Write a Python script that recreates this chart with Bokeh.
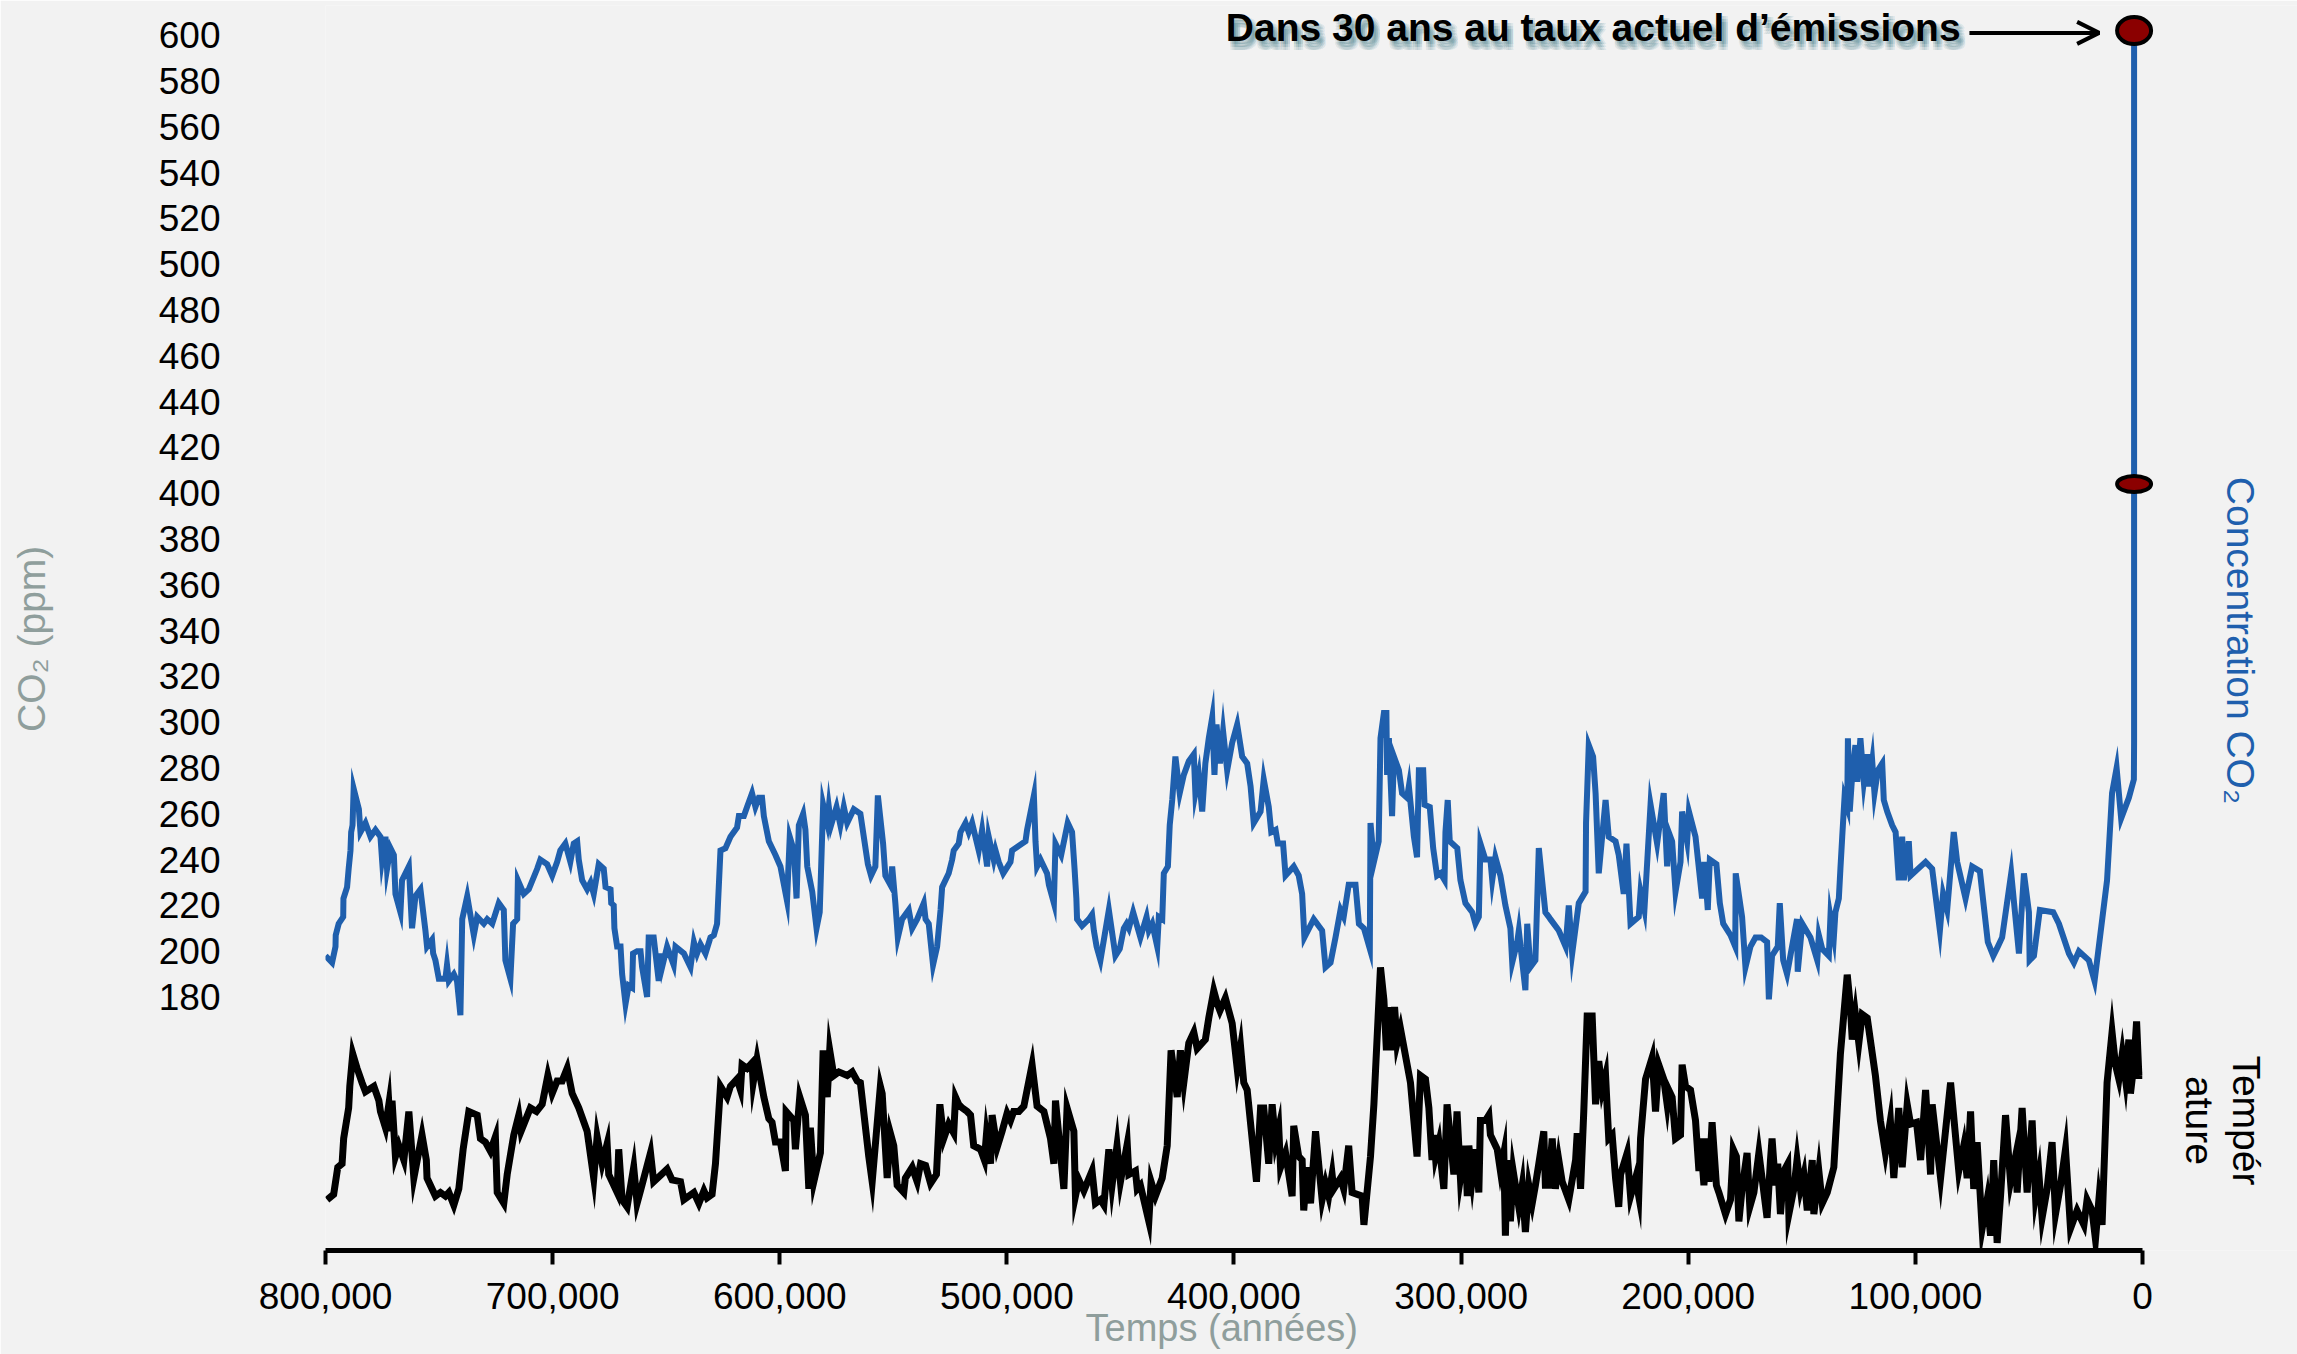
from math import pi

from bokeh.plotting import figure
from bokeh.models import (Range1d, FixedTicker, NumeralTickFormatter, Label,
                          Arrow, OpenHead)
from bokeh.embed import file_html
from bokeh.resources import INLINE

# --- Ice-core CO2 record (years before present, ppm) ---
co2_years = [
    800000, 797100, 795600, 795500, 794200, 792200, 792100, 790500, 789800, 789000,
    788700, 788100, 787600, 785300, 784600, 782400, 780200, 778000, 775800, 775100,
    773600, 772900, 771400, 769900, 769200, 767000, 766300, 763300, 761900, 760400,
    758200, 756000, 755300, 753100, 752600, 751600, 750100, 747200, 746500, 745700,
    743500, 742100, 740600, 739800, 737600, 734700, 733200, 730300, 728800, 726600,
    723700, 721500, 720800, 718600, 717400, 715600, 715300, 712700, 710500, 706800,
    705400, 702400, 700200, 698000, 696600, 694400, 692200, 690700, 689200, 688500,
    687000, 684800, 683300, 681900, 679700, 677500, 676700, 674500, 674200, 673100,
    672800, 671600, 670100, 669400, 667900, 666500, 665000, 664600, 662800, 661300,
    660600, 658400, 657700, 655500, 653300, 652500, 651800, 649600, 646700, 645900,
    642200, 639300, 637800, 636400, 634900, 632700, 630500, 629000, 627600, 626100,
    623900, 621700, 618800, 618000, 615800, 614400, 612200, 610700, 609200, 607800,
    607000, 604800, 601900,
    599700, 596800, 595600, 593800, 592600, 591600, 589700, 588700, 587900, 585700,
    583800, 582400, 580900, 579100, 578400, 577400, 575000, 573300, 571800, 570300,
    567400, 564500, 563000, 561200, 559800, 557900, 556800, 554500, 553500, 551300,
    550500, 549100, 548000, 546100, 543200, 541700, 539500, 536600, 535800, 534400,
    532500, 530700, 529200, 528500, 525600, 524100, 523400, 521200, 520400, 518200,
    516800, 515300, 512400, 510900, 508700, 508000, 505800, 505000, 503600, 501600,
    498400, 497700, 494700, 491800, 491100, 488100, 487400, 486700, 485200, 482300,
    481500, 479300, 478600, 476100, 473200, 471300, 470200, 469400, 469100, 466900,
    463900, 462500, 461700, 460500, 458800, 455100, 452200, 450300, 448500, 447300,
    446300, 444400, 441200, 438500, 437500, 436000, 433800, 433100, 431600, 430900,
    429100, 428300, 427200, 425800, 423900, 422100, 419900, 417700, 417000, 415500,
    414000, 412600, 411100, 409600, 408600, 407700, 406200, 404800, 403000, 400800,
    398600,
    396400, 394200, 392700, 391300, 388300, 386900, 384700, 383600, 381700, 380700,
    378400, 377300, 373700, 371500, 370000, 369000, 364900, 361200, 359700, 357500,
    355300, 353100, 351700, 349500, 346500, 345000, 342800, 340200, 339900, 338400,
    336300, 335500, 334000, 332900, 332600, 331800, 330400, 329600, 327400, 326000,
    323800, 323000, 320800, 319400, 318600, 316700, 316100, 313800, 312300, 310600,
    309100, 307300, 306900, 305900, 305000, 301700, 300300, 298100, 295100, 293700,
    292200, 291500, 289300, 287100, 286300, 284900, 282700, 280500, 278300, 277500,
    275300, 274600, 271700, 270900, 269500, 267300, 265800, 262900, 261400, 260700,
    257000, 254000, 252600, 251100, 248200, 245200, 245000, 243800, 241900, 240800,
    239400, 236400, 235000, 232000, 230600, 228400, 227200, 225400, 221800, 221000,
    219300, 216600, 213700, 210800, 209300, 208600, 207100, 205600, 203400, 202700,
    200500, 199700, 196800,
    193900, 192900, 191400, 190500, 187600, 186100, 184600, 181400, 179300, 179100,
    176300, 174800, 172600, 170400, 167900, 165300, 164500, 163100, 160600, 159700,
    158200, 156500, 152100, 151800, 149800, 146200, 143200, 142500, 141000, 138100,
    137400, 135900, 135200, 133700, 133000, 132200, 131200, 130000, 129700, 128900,
    127800, 126400, 125600, 124200, 122700, 121200, 120500, 119000, 118000, 116500,
    114600, 113900, 112400, 110200, 108700, 107300, 105800, 105100, 102900, 102100,
    95500, 92600, 89200, 87800, 86000, 83100, 81600, 77900, 75000, 71600,
    68100, 65700, 63700, 61800, 57800, 54400, 52200, 50000, 49700, 47800,
    45200, 39300, 36800, 32400, 30200, 28000, 23600, 21100, 15600, 13400,
    11400, 9400, 6000, 3800, 3700,
]
co2_ppm = [
    198, 195, 202, 207, 212, 215, 223, 228, 236, 244,
    252, 255, 271, 262, 252, 256, 250, 253, 250, 240,
    250, 236, 245, 242, 225, 217, 231, 237, 210, 224,
    227, 209, 202, 205, 199, 196, 188, 188, 194, 187,
    190, 187, 172, 214, 224, 207, 215, 212, 214, 212,
    221, 218, 196, 188, 212, 214, 231, 225, 227, 236,
    240, 238, 233, 239, 244, 247, 239, 247, 248, 240,
    231, 227, 230, 225, 238, 236, 228, 227, 221, 220,
    210, 202, 202, 190, 177, 185, 184, 199, 200, 200,
    193, 180, 206, 206, 187, 199, 193, 202, 194, 202,
    199, 193, 204, 199, 203, 199, 206, 207, 212, 244,
    245, 250, 254, 259, 259, 263, 269, 263, 267, 267,
    259, 248, 242,
    237, 222, 250, 244, 223, 255, 260, 253, 237, 226,
    210, 217, 264, 256, 263, 255, 263, 255, 263, 256,
    262, 260, 250, 238, 233, 237, 268, 247, 233, 229,
    237, 221, 206, 214, 218, 210, 214, 221, 214, 212,
    194, 202, 218, 228, 234, 240, 244, 247, 252, 256,
    252, 256, 244, 253, 237, 250, 240, 244, 239, 234,
    239, 244, 246, 248, 253, 268, 248, 237, 240, 234,
    229, 221, 247, 242, 256, 252, 236, 223, 214, 211,
    214, 216, 209, 202, 196, 218, 198, 201, 210, 212,
    210, 217, 206, 215, 209, 212, 202, 215, 214, 234,
    237, 255, 266, 285, 269, 277, 283, 286, 269, 277,
    261, 282, 293, 302, 277, 299, 282, 296, 279, 291,
    299,
    285, 282, 272, 256, 261, 275, 263, 252, 253, 247,
    247, 233, 237, 233, 225, 206, 214, 209, 193, 195,
    206, 218, 215, 229, 229, 212, 210, 201, 256, 239,
    248, 293, 304, 304, 277, 293, 259, 285, 279, 269,
    267, 272, 250, 241, 279, 279, 264, 263, 245, 233,
    234, 231, 252, 266, 248, 245, 231, 221, 217, 212,
    215, 247, 240, 240, 231, 241, 233, 220, 210, 195,
    204, 209, 183, 212, 193, 196, 245, 217, 215, 214,
    209, 202, 220, 199, 221, 226, 256, 290, 285, 269,
    234, 266, 250, 248, 242, 225, 247, 212, 215, 226,
    218, 264, 247, 269, 237, 252, 248, 226, 239, 261,
    248, 261, 250,
    223, 239, 218, 240, 238, 221, 212, 207, 202, 234,
    215, 193, 202, 206, 206, 204, 179, 198, 202, 221,
    196, 190, 214, 191, 212, 206, 196, 207, 201, 198,
    215, 206, 217, 223, 236, 250, 267, 263, 293, 261,
    277, 290, 274, 293, 274, 286, 272, 283, 269, 279,
    282, 266, 261, 255, 252, 231, 250, 231, 248, 233,
    239, 236, 209, 225, 218, 252, 239, 223, 237, 235,
    204, 198, 202, 206, 234, 199, 234, 217, 196, 198,
    218, 217, 212, 199, 195, 200, 196, 187, 231, 269,
    280, 258, 267, 275, 291,
]

# --- Present-day level and the level projected thirty years ahead ---
modern_years = [3700, 3700]
modern_ppm = [404, 602]

# --- Temperature anomaly from the same core (deg C) ---
temp_years = [
    799300, 796400, 794600, 792700, 792000, 789800, 789300, 788000, 786100, 783900,
    782400, 778700, 776500, 775800, 773600, 772100, 771400, 770700, 769200, 767700,
    765500, 763300, 761100, 757500, 755600, 755300, 751600, 749400, 747200, 745700,
    743500, 741300, 739400, 736900, 733200, 731800, 729600, 727400, 725200, 724400,
    721500, 720000, 717100, 714900, 713900, 709800, 707100, 704600, 702100, 700200,
    698000, 695800, 693600, 691400, 688500, 684800, 681900, 680400, 678200, 676000,
    675300, 671600, 670900, 669400, 667200, 664300, 662800, 661300, 656900, 655500,
    649600, 647400, 643700, 642200, 637800, 635600, 633400, 632000, 629800, 628300,
    626100, 623200, 621700, 618800, 617300, 616600, 614400, 612200, 611700, 610000,
    607000, 604800, 603400, 601900,
    599700, 597500, 597200, 593800, 593100, 591200, 588700, 587200, 586500, 585000,
    582100, 580900, 579100, 578000, 576200, 574000, 570300, 568100, 565900, 564500,
    560800, 559300, 555700, 554900, 552700, 551300, 549800, 548300, 545400, 544700,
    541700, 539500, 538000, 535800, 533600, 531000, 529500, 527800, 525600, 523400,
    522600, 521200, 519700, 517500, 516000, 514600, 511600, 509900, 509000, 507200,
    506500, 504300, 502100, 499900, 498400, 497000, 494700, 492500, 488900, 486700,
    483700, 480800, 479300, 478600, 474900, 473500, 470500, 469800, 468300, 466100,
    462500, 461000, 458800, 457300, 455100, 453700, 451500, 450000, 447000, 446300,
    443400, 442600, 441200, 437500, 436500, 434600, 431600, 429400, 427700, 425000,
    423600, 422100, 419900, 417700, 416200, 412600, 411100, 408900, 407400, 406200,
    403800, 400800, 398600, 397100,
    395700, 394200, 390100, 388300, 386900, 384700, 383200, 381700, 380300, 379500,
    377300, 374400, 373700, 371500, 370000, 369300, 367800, 366300, 364100, 361200,
    359700, 358300, 356800, 356100, 353100, 351700, 349500, 348000, 343600, 342800,
    339900, 338400, 335500, 334000, 332900, 331800, 331100, 329300, 328200, 326700,
    322300, 319400, 317900, 315700, 314200, 312800, 312000, 311300, 309800, 307600,
    306200, 303200, 301800, 300300, 298100, 297300, 296600, 295100, 293700, 292200,
    291500, 289300, 287800, 287100, 284100, 282700, 281200, 280500, 279700, 278300,
    277100, 274600, 273100, 271700, 270200, 268700, 267300, 265800, 263600, 262900,
    261400, 259900, 258500, 257000, 255500, 252600, 249600, 248900, 247400, 246000,
    244500, 242300, 240800, 239400, 237900, 236400, 235700, 235000, 233500, 232000,
    230600, 229800, 226900, 225400, 223200, 221800, 221000, 218800, 215900, 214400,
    213000, 210800, 209300, 208600, 207100, 205600, 203400, 202700, 201200, 199000,
    196800, 195300,
    194600, 193100, 191700, 190900, 189500, 187600, 186500, 183600, 181400, 180200,
    178800, 177700, 176300, 174100, 172900, 171100, 168900, 167500, 165300, 163800,
    163100, 161600, 160600, 159400, 157900, 156200, 155700, 153500, 152100, 150600,
    149100, 147600, 145400, 144700, 142500, 141000, 138800, 135900, 133000, 130000,
    128600, 127800, 126400, 124900, 123400, 121200, 117600, 115400, 113200, 111000,
    109500, 107300, 105800, 103600, 102100, 99500, 97700, 95500, 93300, 92600,
    88900, 84500, 80900, 78700, 77200, 75700, 74300, 72800, 70600, 68400,
    66900, 65500, 64000, 62500, 60300, 58100, 55900, 55200, 53000, 50800,
    48600, 47100, 45600, 44200, 42000, 39800, 38300, 36100, 33900, 31700,
    28800, 25800, 24400, 22200, 20700, 19200, 17800, 15600, 13400, 11900,
    10400, 8900, 7500, 6000, 5300, 3800, 2600, 1600, 100,
]
temp_anom = [
    -6.9, -6.6, -5.1, -4.9, -3.5, -1.8, -0.6, 1.2, 0.4, -0.4,
    -0.9, -0.6, -1.4, -2.0, -2.9, -1.6, -3.1, -1.4, -4.5, -3.9,
    -4.7, -2.0, -5.7, -3.3, -4.7, -5.7, -6.7, -6.5, -6.7, -6.5,
    -7.2, -6.3, -4.1, -2.0, -2.2, -3.5, -3.7, -4.2, -3.4, -6.5,
    -7.1, -5.5, -3.3, -2.2, -3.1, -1.8, -2.0, -1.6, 0.0, -1.0,
    -0.3, -0.3, 0.4, -1.0, -1.8, -3.1, -5.7, -3.4, -4.9, -3.8,
    -5.5, -6.5, -4.1, -6.9, -7.3, -5.1, -7.1, -6.4, -4.3, -5.9,
    -5.2, -5.8, -5.9, -6.9, -6.5, -7.1, -6.4, -6.8, -6.6, -4.9,
    -0.6, -1.2, -0.6, -0.2, -0.8, 0.6, 0.4, 0.7, -0.4, 0.9,
    -1.2, -2.4, -2.6, -3.7,
    -3.7, -5.3, -2.0, -2.5, -4.1, -1.2, -2.2, -6.3, -2.9, -5.9,
    -4.3, 1.4, -1.2, 1.4, 0.0, 0.2, 0.0, 0.2, -0.3, -0.4,
    -4.5, -5.9, -0.6, -1.0, -5.7, -3.2, -3.9, -6.1, -6.5, -5.7,
    -5.1, -5.9, -4.9, -5.0, -6.0, -5.5, -1.6, -3.5, -2.7, -3.2,
    -1.2, -1.6, -1.8, -2.0, -2.2, -3.9, -4.1, -4.7, -3.3, -4.9,
    -2.2, -4.0, -3.1, -2.1, -2.5, -2.0, -2.0, -1.7, 0.6, -1.7,
    -2.0, -3.5, -4.9, -1.4, -6.3, -1.8, -3.1, -6.7, -5.8, -6.4,
    -5.3, -7.1, -6.9, -7.2, -4.1, -6.1, -3.9, -5.9, -3.8, -5.5,
    -5.3, -6.3, -6.1, -8.1, -5.9, -6.7, -5.7, -3.9, 1.4, -1.2,
    1.4, -0.4, 1.8, 2.4, 1.5, 2.0, 3.2, 4.7, 4.0, 3.6,
    4.3, 2.9, 0.4, 1.6,
    -0.4, -0.8, -5.9, -1.8, -1.8, -4.9, -1.6, -3.7, -2.9, -5.1,
    -4.3, -6.7, -2.8, -4.5, -4.7, -7.5, -5.1, -7.1, -3.1, -6.9,
    -6.0, -6.7, -5.5, -6.3, -5.7, -6.3, -3.9, -6.5, -6.7, -8.3,
    -4.5, -1.6, 6.0, 4.2, 1.4, 3.8, 1.4, 3.8, 1.8, 2.6,
    -0.4, -4.5, 0.0, -0.2, -1.8, -4.7, -3.3, -4.5, -3.7, -6.3,
    -1.6, -5.5, -2.0, -5.7, -3.9, -6.7, -3.9, -5.7, -4.1, -6.5,
    -2.5, -2.5, -2.2, -3.3, -4.1, -5.3, -4.3, -8.9, -4.7, -8.1,
    -5.3, -7.3, -6.1, -8.7, -6.1, -7.1, -6.1, -4.9, -3.1, -6.1,
    -6.1, -3.5, -6.3, -4.7, -5.9, -6.9, -4.7, -3.2, -6.3, -2.0,
    3.3, 3.3, -1.6, 0.8, -0.8, 0.0, -1.8, -3.5, -3.3, -5.7,
    -7.3, -5.5, -4.3, -6.7, -5.7, -6.7, -3.5, -0.2, 1.0, -2.0,
    0.6, -0.2, -1.6, -0.8, -1.2, -3.5, -3.3, 0.6, -0.6, -0.8,
    -2.5, -5.3,
    -3.5, -6.1, -3.5, -5.9, -2.6, -6.1, -6.5, -7.7, -6.9, -4.1,
    -4.5, -8.1, -6.3, -4.3, -7.3, -6.5, -4.3, -5.7, -7.9, -4.7,
    -3.5, -6.1, -4.9, -7.7, -5.3, -4.9, -7.7, -6.3, -4.7, -6.3,
    -5.5, -7.5, -4.7, -7.7, -5.3, -7.1, -6.5, -5.1, 1.2, 5.6,
    3.8, 2.0, 3.4, 1.8, 3.4, 3.2, 0.0, -2.5, -4.3, -2.5,
    -5.7, -1.8, -5.1, -1.6, -2.7, -2.6, -4.7, -0.8, -5.5, -1.6,
    -5.7, -0.4, -5.3, -3.9, -5.7, -2.0, -6.3, -3.7, -8.5, -6.9,
    -8.9, -4.7, -9.3, -6.7, -2.2, -5.9, -4.5, -6.5, -1.8, -6.5,
    -2.5, -6.7, -5.5, -7.9, -6.3, -3.7, -7.7, -6.1, -4.1, -8.5,
    -7.5, -8.3, -6.9, -7.5, -9.1, -6.9, -8.3, -0.4, 2.4, 0.6,
    -0.2, 1.2, -0.2, 2.0, -1.0, 0.6, 3.0, 0.0, 0.0,
]

co2_ticks = list(range(180, 601, 20))
year_ticks = [800000, 700000, 600000, 500000, 400000, 300000, 200000, 100000, 0]

BG = "#f2f2f2"
BLUE = "#1f5fad"
GREY = "#8f9e9c"
FONT = "Liberation Sans"
NBSP = "\u00a0"

# The plotting area runs to the right edge so that the series names
# on that side sit inside it; the time axis is bounded to 0..800,000.
p = figure(width=2297, height=1354, title=None, output_backend="svg",
           toolbar_location=None,
           x_range=Range1d(800000, -68247), y_range=Range1d(69.3, 612.97),
           min_border_left=325, min_border_right=0,
           min_border_top=5, min_border_bottom=104,
           background_fill_color=BG, border_fill_color=BG,
           outline_line_color=None)
p.extra_y_ranges = {"temp": Range1d(-9.722, 59.44)}
p.xgrid.visible = False
p.ygrid.visible = False

# CO2 scale on the left: bare numbers, no line or ticks
yax = p.yaxis[0]
yax.ticker = FixedTicker(ticks=co2_ticks)
yax.axis_line_color = None
yax.major_tick_line_color = None
yax.minor_tick_line_color = None
yax.major_tick_in = 0
yax.major_tick_out = 0
yax.major_label_standoff = 105
yax.major_label_text_font = FONT
yax.major_label_text_font_size = "37px"
yax.major_label_text_color = "black"
# trailing no-break spaces nudge the title a little below the frame's middle
yax.axis_label = "CO\u2082 (ppm)" + NBSP * 2
yax.axis_label_standoff = 103
yax.axis_label_text_font = FONT
yax.axis_label_text_font_size = "39px"
yax.axis_label_text_font_style = "normal"
yax.axis_label_text_color = GREY

# Time axis
xax = p.xaxis[0]
xax.bounds = (0, 800000)
xax.ticker = FixedTicker(ticks=year_ticks)
xax.formatter = NumeralTickFormatter(format="0,0")
xax.axis_line_width = 5
xax.axis_line_color = "black"
xax.major_tick_line_width = 4
xax.major_tick_line_color = "black"
xax.major_tick_in = 0
xax.major_tick_out = 14
xax.minor_tick_line_color = None
xax.major_label_standoff = 18
xax.major_label_text_font = FONT
xax.major_label_text_font_size = "37px"
xax.major_label_text_color = "black"
# trailing no-break spaces keep the title centred under the bounded time axis
xax.axis_label = "Temps (ann\u00e9es)" + NBSP * 17
xax.axis_label_standoff = -5
xax.axis_label_text_font = FONT
xax.axis_label_text_font_size = "38px"
xax.axis_label_text_font_style = "normal"
xax.axis_label_text_color = GREY

# Curves
p.line(co2_years + modern_years, co2_ppm + modern_ppm,
       line_color=BLUE, line_width=6, line_join="miter")
p.line(temp_years, temp_anom, y_range_name="temp",
       line_color="black", line_width=7, line_join="miter")

# Markers for today and for the projection
p.ellipse(x=modern_years, y=modern_ppm, width=34, height=[16, 27],
          width_units="screen", height_units="screen",
          fill_color="#8b0000", line_color="black", line_width=4)

# Projection callout with a soft teal drop shadow
callout = "Dans 30 ans au taux actuel d\u2019\u00e9missions"
for dx in (2, 4, 6):
    for dy in (3, 6, 9):
        p.add_layout(Label(x=80100, y=603.4, text=callout, text_align="right",
                           text_baseline="middle", x_offset=dx, y_offset=-dy,
                           text_font=FONT, text_font_style="bold",
                           text_font_size="39px", text_color="#2f6f7c",
                           text_alpha=0.11))
p.add_layout(Label(x=80100, y=603.4, text=callout, text_align="right",
                   text_baseline="middle", text_font=FONT,
                   text_font_style="bold", text_font_size="39px",
                   text_color="black"))
p.add_layout(Arrow(end=OpenHead(size=22, line_width=4, line_color="black"),
                   x_start=76200, y_start=601, x_end=19100, y_end=601,
                   line_width=4, line_color="black"))

# Series names on the right
p.add_layout(Label(x=-43150, y=335.7, text="Concentration CO\u2082",
                   angle=-pi / 2, text_align="center", text_baseline="middle",
                   text_font=FONT, text_font_size="39px", text_color=BLUE))
p.add_layout(Label(x=-45800, y=126.1, text="Temp\u00e9r", angle=-pi / 2,
                   text_align="center", text_baseline="middle",
                   text_font=FONT, text_font_size="39px", text_color="black"))
p.add_layout(Label(x=-25100, y=126.1, text="ature", angle=-pi / 2,
                   text_align="center", text_baseline="middle",
                   text_font=FONT, text_font_size="39px", text_color="black"))

open("out.html", "w").write(file_html(p, INLINE))
